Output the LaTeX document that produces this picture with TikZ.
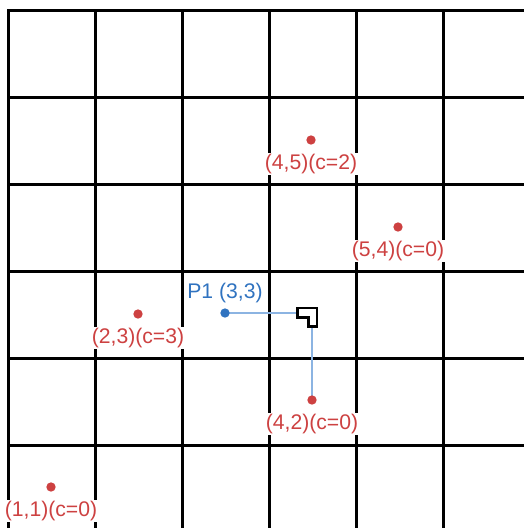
\documentclass[tikz,border=0pt]{standalone}
\usepackage{fontspec}
\setmainfont{Liberation Sans}
\definecolor{ptred}{RGB}{205,65,65}
\definecolor{ptblue}{RGB}{48,115,192}
\definecolor{lineblue}{RGB}{140,180,226}
\begin{document}
\begin{tikzpicture}[x=0.3pt,y=-0.3pt,
  gridline/.style={line width=0.8pt,black,line cap=rect},
  reddot/.style={circle,fill=ptred,inner sep=0pt,minimum size=2.8pt},
  bluedot/.style={circle,fill=ptblue,inner sep=0pt,minimum size=2.8pt},
  lbl/.style={text=ptred,fill=white,inner sep=0.4pt,font=\fontsize{6.35pt}{7pt}\selectfont},
  plbl/.style={text=ptblue,fill=white,inner sep=0.4pt,font=\fontsize{6.35pt}{7pt}\selectfont},
  pathline/.style={line width=0.7pt,lineblue},
  cornermark/.style={line width=0.7pt,black,fill=white,line join=miter}]
\useasboundingbox (0,0) rectangle (523,528);
\fill[white] (0,0) rectangle (523,528);
% grid
\foreach \k in {0,...,5}{
  \draw[gridline] (8.5+87*\k,10.5) -- (8.5+87*\k,540);
  \draw[gridline] (8.5,10.5+87*\k) -- (540,10.5+87*\k);
}
% point centres
\coordinate (c11) at (51,487);
\coordinate (c23) at (138,314);
\coordinate (c45) at (311,140);
\coordinate (c54) at (398,227);
\coordinate (c42) at (312,400);
\coordinate (cp1) at (225,313);
% path from P1 to (4,2)
\draw[pathline] (cp1) -| (c42);
% corner marker
\draw[cornermark] (297.5,308) -- (317,308) -- (317,326.5) -- (308.5,326.5)
  -- (308.5,317.5) -- (297.5,317.5) -- cycle;
% dots
\node[reddot] (d11) at (c11) {};
\node[reddot] (d23) at (c23) {};
\node[reddot] (d45) at (c45) {};
\node[reddot] (d54) at (c54) {};
\node[reddot] (d42) at (c42) {};
\node[bluedot] (p1) at (cp1) {};
% labels
\node[lbl] (l11) at (51,511) {(1,1)(c=0)};
\node[lbl] (l23) at (138,338) {(2,3)(c=3)};
\node[lbl] (l45) at (311,164) {(4,5)(c=2)};
\node[lbl] (l54) at (398,251) {(5,4)(c=0)};
\node[lbl] (l42) at (312,424) {(4,2)(c=0)};
\node[plbl] (lp1) at (225,293) {P1 (3,3)};
\end{tikzpicture}
\end{document}
